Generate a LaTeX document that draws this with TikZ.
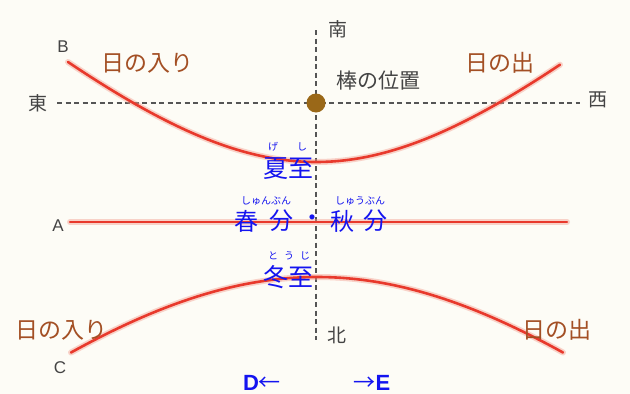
\documentclass[tikz,border=0pt]{standalone}
\usepackage{fontspec}
\newfontfamily\jp{Noto Sans CJK JP}
\newfontfamily\lat{Liberation Sans}
\definecolor{bg}{HTML}{FDFCF6}
\definecolor{sunred}{HTML}{E8392C}
\definecolor{halo}{HTML}{F4A090}
\definecolor{brownlbl}{HTML}{A34F24}
\definecolor{dotbrown}{HTML}{9A6818}
\definecolor{axisgray}{HTML}{555555}
\definecolor{txtgray}{HTML}{444444}
\definecolor{bluelbl}{HTML}{1414F0}
\tikzset{
  axisline/.style={draw=axisgray, line width=1.1pt, dash pattern=on 5pt off 3.5pt},
  sunhalo/.style={draw=halo, line width=6pt, opacity=0.45, line cap=round},
  sunpath/.style={draw=sunred, line width=2.6pt, line cap=round},
  dirlbl/.style={font=\jp\fontsize{19}{19}\selectfont, text=txtgray, inner sep=0pt},
  letterlbl/.style={font=\lat\fontsize{17}{17}\selectfont, text=txtgray, inner sep=0pt},
  sunlbl/.style={font=\jp\fontsize{23}{23}\selectfont, text=brownlbl, inner sep=0pt},
  seasonlbl/.style={font=\jp\fontsize{25}{25}\selectfont, text=bluelbl, inner sep=0pt},
  eqlbl/.style={font=\jp\fontsize{24}{24}\selectfont, text=bluelbl, inner sep=0pt},
  rubylbl/.style={font=\jp\fontsize{10}{10}\selectfont, text=bluelbl, inner sep=0pt},
  dirarrow/.style={text=bluelbl, inner sep=0pt}
}
\newcommand{\dirletter}[1]{{\lat\bfseries\fontsize{22}{22}\selectfont #1}}
\newcommand{\dirarr}[1]{{\jp\fontsize{22}{22}\selectfont #1}}
\begin{document}
\begin{tikzpicture}[x=1pt,y=-1pt]
\fill[bg] (0,0) rectangle (630,394);
\useasboundingbox (0,0) rectangle (630,394);
% axes
\coordinate (ntop) at (316,30);
\coordinate (nbot) at (316,340);
\coordinate (ewl) at (57,103);
\coordinate (ewr) at (580,103);
\draw[axisline] (ntop) -- (nbot);
\draw[axisline] (ewl) -- (ewr);
% upper path (B)
\draw[sunhalo] plot[domain=68:560, samples=80, smooth] (\x, {162 - (100*sqrt(4 + 0.813*((\x-316)/100)^2) - 200)});
\draw[sunpath] plot[domain=68:560, samples=80, smooth] (\x, {162 - (100*sqrt(4 + 0.813*((\x-316)/100)^2) - 200)});
% equinox path (A)
\coordinate (al) at (70,222);
\coordinate (ar) at (567,222);
\draw[sunhalo] (al) -- (ar);
\draw[sunpath] (al) -- (ar);
% lower path (C)
\draw[sunhalo] plot[domain=71:563, samples=80, smooth] (\x, {277 + (100*sqrt(9 + 0.843*((\x-317)/100)^2) - 300)});
\draw[sunpath] plot[domain=71:563, samples=80, smooth] (\x, {277 + (100*sqrt(9 + 0.843*((\x-317)/100)^2) - 300)});
% stick
\fill[dotbrown] (316,103) circle (9.5pt);
\node (stick) at (316,103) {};
% direction labels
\node[dirlbl] (south) at (338,29) {南};
\node[dirlbl] (north) at (337,335) {北};
\node[dirlbl] (east) at (38,103) {東};
\node[dirlbl] (west) at (598,100) {西};
\node[font=\jp\fontsize{21}{21}\selectfont, text=txtgray, inner sep=0pt] (stickl) at (378,81) {棒の位置};
% letters
\node[letterlbl] (lb) at (63,47) {B};
\node[letterlbl] (la) at (58,226) {A};
\node[letterlbl] (lc) at (60,368) {C};
% sunrise/sunset
\node[sunlbl] (set1) at (147,63) {日の入り};
\node[sunlbl] (rise1) at (500,63) {日の出};
\node[sunlbl] (set2) at (62,330) {日の入り};
\node[sunlbl] (rise2) at (557,330) {日の出};
% seasons
\node[seasonlbl] (summer) at (288,169) {夏至};
\node[rubylbl] (ge) at (273,147) {げ};
\node[rubylbl] (shi) at (302,147) {し};
\node[eqlbl] (ha) at (246,221) {春};
\node[eqlbl] (bun1) at (281,221) {分};
\node[eqlbl] (dot) at (312,221) {・};
\node[eqlbl] (aki) at (342,221) {秋};
\node[eqlbl] (bun2) at (375,221) {分};
\node[rubylbl] (shunbun) at (266,201) {しゅんぶん};
\node[rubylbl] (shuubun) at (360,201) {しゅうぶん};
\node[seasonlbl] (winter) at (288,277) {冬至};
\node[rubylbl] (touji) at (289,256) {と\hspace{6pt}う\hspace{6pt}じ};
% D and E
\node[dirarrow] (dlbl) at (262,383) {\dirletter{D}\dirarr{←}};
\node[dirarrow] (elbl) at (372,383) {\dirarr{→}\dirletter{E}};
\end{tikzpicture}
\end{document}
